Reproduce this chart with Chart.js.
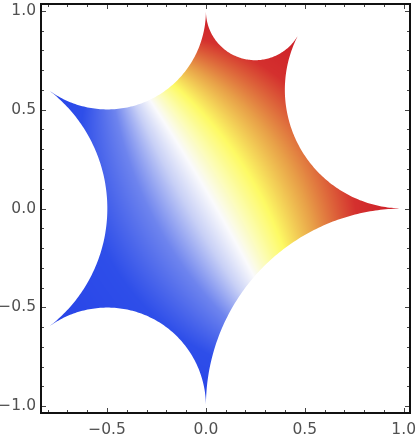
<!DOCTYPE html>
<html><head><meta charset="utf-8">
<script src="https://cdn.jsdelivr.net/npm/chart.js@4"></script>
<style>html,body{margin:0;padding:0;background:#fff}</style>
</head><body>
<canvas id="c" width="417" height="439"></canvas>
<script>
// Cusp (ideal vertex) directions of the shape, in degrees
const cuspAngleDeg = [0, 62, 90, 143, 217, 270];
// Arc of the unit circle that carries the red end of the colour scale (degrees)
const redArcDeg = [-60, 120];
// Axis ranges and tick values
const xRange = [-0.834, 1.032];
const yRange = [-1.035, 1.035];
const xMajorTicks = [-0.5, 0.0, 0.5, 1.0];
const yMajorTicks = [-1.0, -0.5, 0.0, 0.5, 1.0];
const xMinorTicks = [-0.8,-0.7,-0.6,-0.4,-0.3,-0.2,-0.1,0.1,0.2,0.3,0.4,0.6,0.7,0.8,0.9];
const yMinorTicks = [-0.9,-0.8,-0.7,-0.6,-0.4,-0.3,-0.2,-0.1,0.1,0.2,0.3,0.4,0.6,0.7,0.8,0.9];
// Colour scale (value 0 = blue end, 1 = red end)
const colorStops = [
  [0.00, [40, 68, 232]],
  [0.18, [46, 78, 233]],
  [0.34, [110, 132, 238]],
  [0.45, [200, 208, 246]],
  [0.53, [250, 250, 252]],
  [0.60, [252, 252, 175]],
  [0.67, [253, 250, 100]],
  [0.78, [232, 160, 72]],
  [0.90, [212, 48, 46]],
  [1.00, [205, 30, 40]]
];

const cusps = cuspAngleDeg.map(d => ({x: Math.cos(d*Math.PI/180), y: Math.sin(d*Math.PI/180)}));
const fmt = v => (v < 0 ? '\u2212' : '') + Math.abs(v).toFixed(1);

function colorAt(t){
  if (t <= colorStops[0][0]) return colorStops[0][1];
  for (let i=1;i<colorStops.length;i++){
    if (t <= colorStops[i][0]){
      const [t0,c0] = colorStops[i-1], [t1,c1] = colorStops[i];
      const f = (t-t0)/(t1-t0);
      return [c0[0]+(c1[0]-c0[0])*f, c0[1]+(c1[1]-c0[1])*f, c0[2]+(c1[2]-c0[2])*f];
    }
  }
  return colorStops[colorStops.length-1][1];
}

const regionPlugin = {
  id: 'region',
  beforeDatasetsDraw(chart){
    const {ctx, chartArea: a, scales: {x, y}} = chart;
    const pts = chart.data.datasets[0].data;
    const n = pts.length;
    ctx.save();
    ctx.beginPath();
    let first = true;
    for (let i=0;i<n;i++){
      const p = pts[i], q = pts[(i+1)%n];
      const a1 = Math.atan2(p.y,p.x), a2 = Math.atan2(q.y,q.x);
      let span = a2 - a1; while (span <= 0) span += 2*Math.PI;
      const h = span/2, mid = a1 + h;
      const cx = Math.cos(mid)/Math.cos(h), cy = Math.sin(mid)/Math.cos(h), r = Math.tan(h);
      const s = Math.atan2(p.y-cy, p.x-cx), e = Math.atan2(q.y-cy, q.x-cx);
      let d = e - s; while (d > Math.PI) d -= 2*Math.PI; while (d < -Math.PI) d += 2*Math.PI;
      const N = 120;
      for (let k=0;k<=N;k++){
        const ang = s + d*k/N;
        const px = x.getPixelForValue(cx + r*Math.cos(ang));
        const py = y.getPixelForValue(cy + r*Math.sin(ang));
        if (first){ ctx.moveTo(px,py); first=false; } else ctx.lineTo(px,py);
      }
    }
    ctx.closePath();
    ctx.clip();
    // colour field
    const w = Math.round(a.right - a.left), hh = Math.round(a.bottom - a.top);
    const off = document.createElement('canvas'); off.width = w; off.height = hh;
    const octx = off.getContext('2d');
    const img = octx.createImageData(w, hh);
    const A = redArcDeg[0]*Math.PI/180, B = redArcDeg[1]*Math.PI/180;
    const ax = Math.cos(A), ay = Math.sin(A), bx = Math.cos(B), by = Math.sin(B);
    for (let j=0;j<hh;j++){
      const Y = y.getValueForPixel(a.top + j + 0.5);
      for (let i=0;i<w;i++){
        const X = x.getValueForPixel(a.left + i + 0.5);
        let th = Math.atan2(by-Y, bx-X) - Math.atan2(ay-Y, ax-X);
        while (th < 0) th += 2*Math.PI; while (th >= 2*Math.PI) th -= 2*Math.PI;
        const t = th/Math.PI - (B-A)/(2*Math.PI);
        const c = colorAt(t);
        const o = (j*w + i)*4;
        img.data[o] = c[0]; img.data[o+1] = c[1]; img.data[o+2] = c[2]; img.data[o+3] = 255;
      }
    }
    octx.putImageData(img, 0, 0);
    ctx.drawImage(off, a.left, a.top);
    ctx.restore();
  }
};

const framePlugin = {
  id: 'frame',
  afterDraw(chart){
    const {ctx, chartArea: a, scales: {x, y}} = chart;
    ctx.save();
    ctx.strokeStyle = '#444';
    ctx.lineWidth = 1;
    const tick = (vals, len) => {
      ctx.beginPath();
      vals.forEach(v => {
        const px = Math.round(x.getPixelForValue(v)) + 0.5;
        ctx.moveTo(px, a.bottom); ctx.lineTo(px, a.bottom - len);
        ctx.moveTo(px, a.top); ctx.lineTo(px, a.top + len);
      });
      ctx.stroke();
    };
    const tickY = (vals, len) => {
      ctx.beginPath();
      vals.forEach(v => {
        const py = Math.round(y.getPixelForValue(v)) + 0.5;
        ctx.moveTo(a.left, py); ctx.lineTo(a.left + len, py);
        ctx.moveTo(a.right, py); ctx.lineTo(a.right - len, py);
      });
      ctx.stroke();
    };
    tick(xMajorTicks, 5); tick(xMinorTicks, 3);
    tickY(yMajorTicks, 5); tickY(yMinorTicks, 3);
    ctx.strokeStyle = '#111';
    ctx.lineWidth = 2;
    ctx.strokeRect(a.left, a.top, a.right - a.left, a.bottom - a.top);
    ctx.restore();
  }
};

const tickFont = {family: 'DejaVu Sans', size: 15.5};
new Chart(document.getElementById('c'), {
  type: 'scatter',
  data: {datasets: [{data: cusps, pointRadius: 0, showLine: false}]},
  options: {
    responsive: false, animation: false, devicePixelRatio: 1,
    layout: {padding: {top: 4, right: 7, left: 0, bottom: 0}},
    plugins: {legend: {display: false}, tooltip: {enabled: false}},
    scales: {
      x: {
        type: 'linear', min: xRange[0], max: xRange[1],
        grid: {display: false, drawTicks: false}, border: {display: false},
        afterBuildTicks: s => { s.ticks = xMajorTicks.map(v => ({value: v})); },
        afterFit: s => { s.height = 26; s.paddingLeft = 0; s.paddingRight = 0; },
        ticks: {padding: 8, color: '#505050', font: tickFont, maxRotation: 0, autoSkip: false, callback: v => fmt(v)}
      },
      y: {
        type: 'linear', min: yRange[0], max: yRange[1],
        grid: {display: false, drawTicks: false}, border: {display: false},
        afterBuildTicks: s => { s.ticks = yMajorTicks.map(v => ({value: v})); },
        afterFit: s => { s.width = 41; s.paddingTop = 0; s.paddingBottom = 0; },
        ticks: {padding: 5, color: '#505050', font: tickFont, autoSkip: false, callback: v => fmt(v)}
      }
    }
  },
  plugins: [regionPlugin, framePlugin]
});
</script>
</body></html>
